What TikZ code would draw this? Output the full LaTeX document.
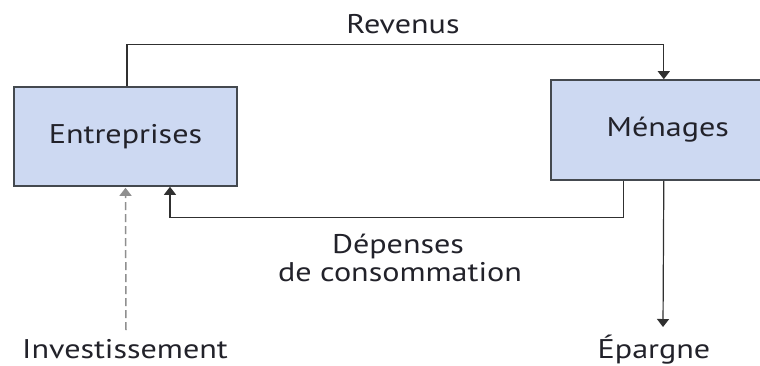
\documentclass[tikz,border=0pt]{standalone}
\usepackage{fontspec}
\usepackage{graphicx}
\setmainfont{PT Sans}
\usetikzlibrary{arrows.meta}
\definecolor{boxfill}{HTML}{CDD9F2}
\definecolor{boxline}{HTML}{44494F}
\definecolor{txt}{HTML}{22222A}
\definecolor{lnc}{HTML}{303030}
\newcommand{\wtxt}[1]{\scalebox{1.19}[1]{#1}}
\begin{document}
\begin{tikzpicture}[x=1pt,y=-1pt,
  box/.style={draw=boxline, line width=1.6pt, fill=boxfill, text=txt, inner sep=0pt, font=\fontsize{27}{32}\selectfont},
  conn/.style={draw=lnc, line width=1.2pt, -{Triangle[width=12pt,length=8pt]}},
  dashconn/.style={draw=gray!75!black!70, line width=1.5pt, dash pattern=on 8pt off 4pt, -{Triangle[width=12pt,length=8pt]}},
  lbl/.style={text=txt, inner sep=0pt, anchor=base, font=\fontsize{27}{32}\selectfont}]
\useasboundingbox (0,0) rectangle (760,365);
\clip (0,0) rectangle (760,365);
\fill[white] (0,0) rectangle (760,365);
\node[box, minimum width=223pt, minimum height=99pt] (E) at (125.5,136.5) {\wtxt{Entreprises}};
\node[box, minimum width=234pt, minimum height=100pt, anchor=west] (M) at (550,130) {\wtxt{Ménages}};
\node[lbl] (R) at (403,33) {\wtxt{Revenus}};
\node[lbl] (D1) at (398,253) {\wtxt{Dépenses}};
\node[lbl] (D2) at (400,281) {\wtxt{de consommation}};
\node[lbl] (I) at (125,358) {\wtxt{Investissement}};
\node[lbl] (Ep) at (654,358) {\wtxt{Épargne}};
\draw[conn] ([xshift=1.5pt]E.north) -- ++(0,-42) -| ([xshift=-4pt]M.north);
\draw[conn] ([xshift=-44pt]M.south) -- ++(0,37) -| ([xshift=44.5pt]E.south);
\draw[dashconn] ([xshift=1pt,yshift=28pt]I.base) -- ([yshift=-1pt]E.south);
\draw[conn] ([xshift=-4pt]M.south) -- ([xshift=9pt,yshift=31pt]Ep.base);
\end{tikzpicture}
\end{document}
